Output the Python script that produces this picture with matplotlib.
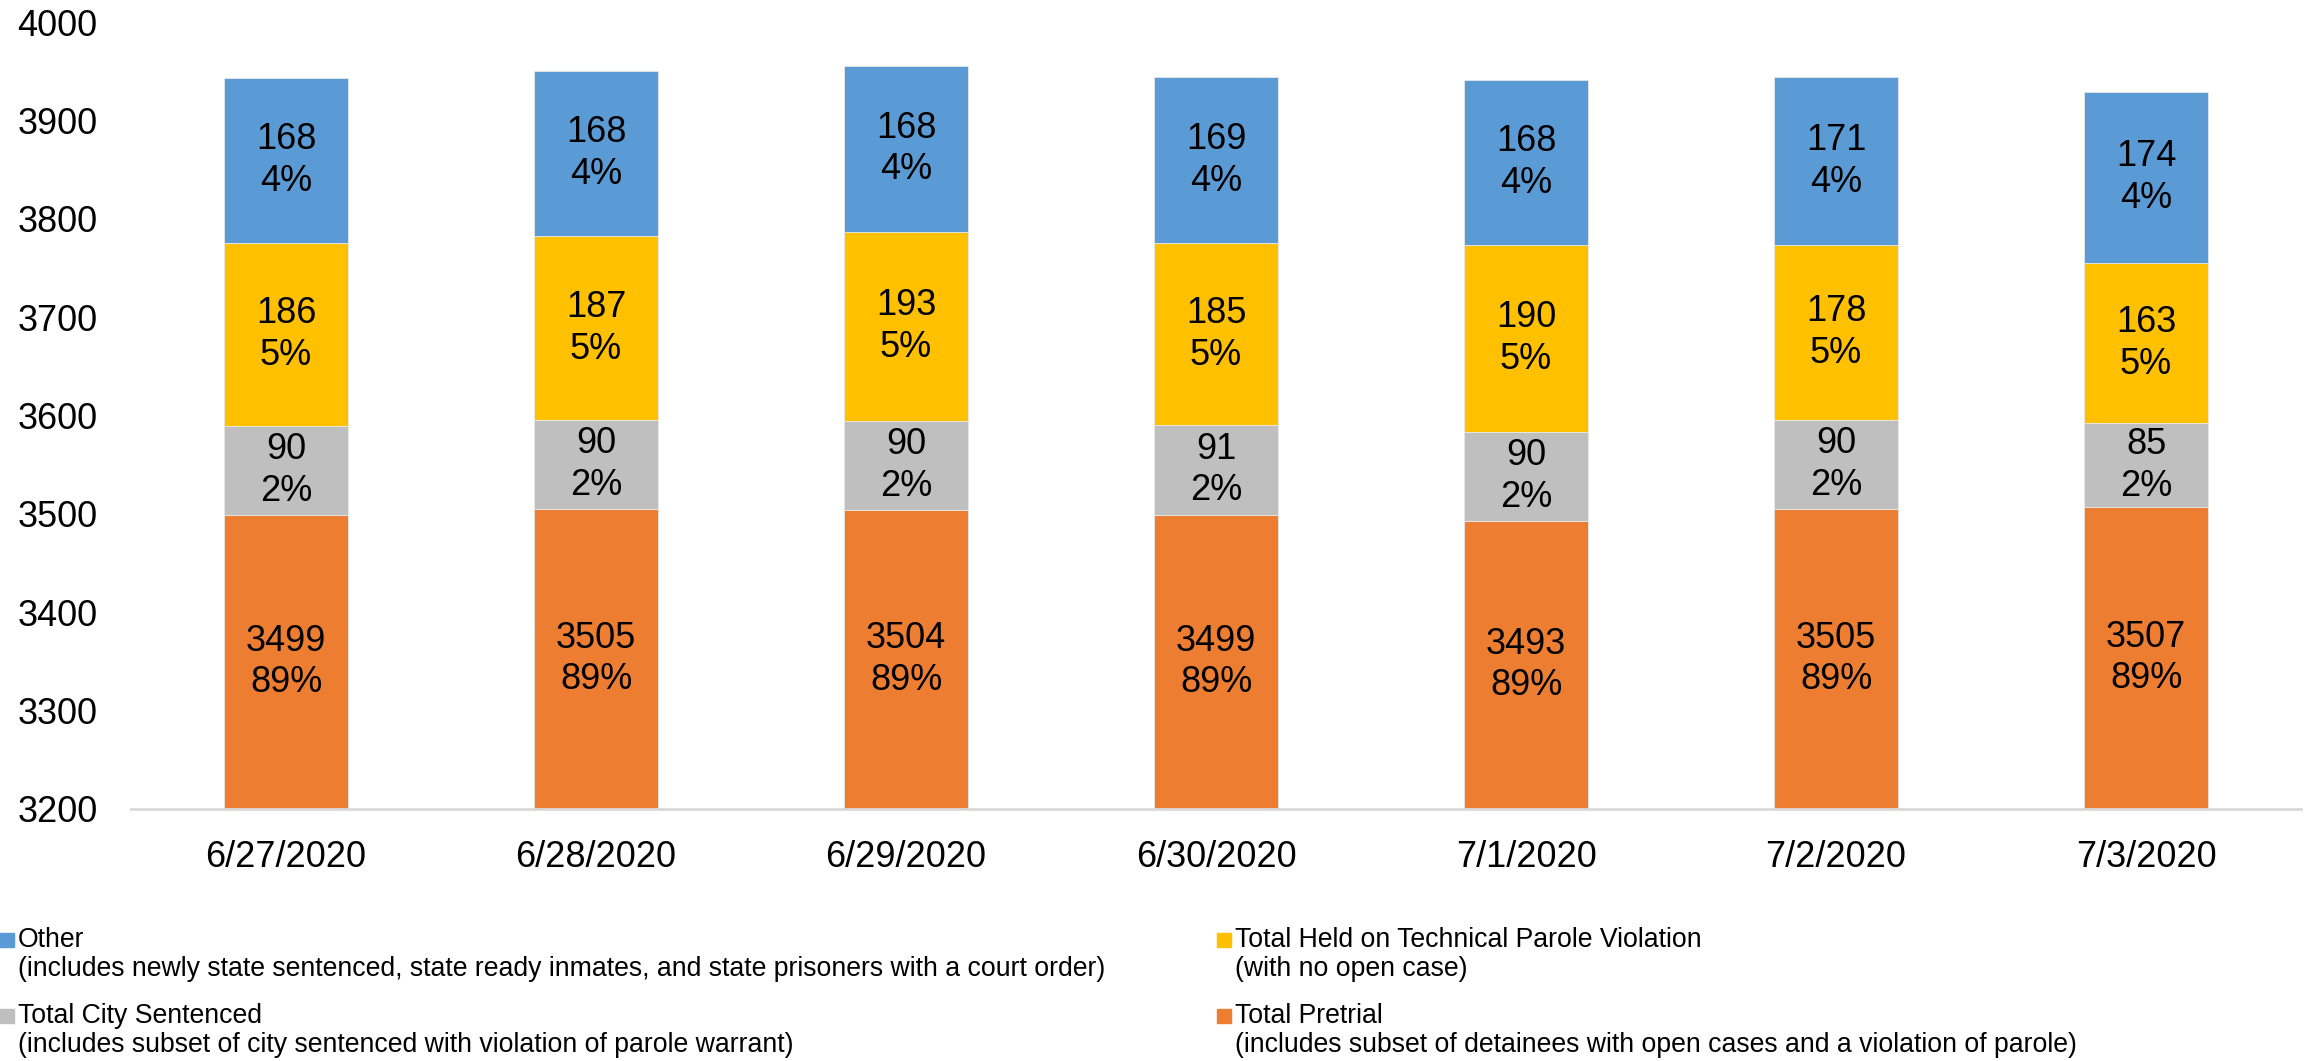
import matplotlib
matplotlib.use("Agg")
import matplotlib.pyplot as plt
from matplotlib.patches import Rectangle

plt.rcParams['font.family'] = ['Liberation Sans', 'DejaVu Sans']

# data
dates = ["6/27/2020", "6/28/2020", "6/29/2020", "6/30/2020", "7/1/2020", "7/2/2020", "7/3/2020"]
pretrial = [3499, 3505, 3504, 3499, 3493, 3505, 3507]
city_sent = [90, 90, 90, 91, 90, 90, 85]
technical = [186, 187, 193, 185, 190, 178, 163]
other = [168, 168, 168, 169, 168, 171, 174]
pct_pretrial = [89, 89, 89, 89, 89, 89, 89]
pct_city = [2, 2, 2, 2, 2, 2, 2]
pct_technical = [5, 5, 5, 5, 5, 5, 5]
pct_other = [4, 4, 4, 4, 4, 4, 4]

series = [
    (pretrial, pct_pretrial, "#ED7D31"),
    (city_sent, pct_city, "#BFBFBF"),
    (technical, pct_technical, "#FFC000"),
    (other, pct_other, "#5B9BD5"),
]

YMIN, YMAX = 3200, 4000

fig = plt.figure(figsize=(23.13, 10.61), dpi=100)
ax = fig.add_axes([131/2313, 1-809/1061, 2170/2313, (809-22)/1061])

x = list(range(len(dates)))
bottom = [0]*len(dates)
for vals, pcts, col in series:
    ax.bar(x, vals, width=0.4, bottom=bottom, color=col, edgecolor="#E8E8E8", linewidth=0.6)
    for i in x:
        lo = max(bottom[i], YMIN)
        hi = bottom[i] + vals[i]
        ax.text(i, (lo+hi)/2, "%d\n%d%%" % (vals[i], pcts[i]), ha='center', va='center',
                fontsize=26, linespacing=1.25)
    bottom = [b+v for b, v in zip(bottom, vals)]

ax.set_ylim(YMIN, YMAX)
ax.set_xlim(-0.5, len(dates)-0.5)
ax.set_yticks(range(3200, 4001, 100))
ax.set_xticks(x)
ax.set_xticklabels(dates)
ax.tick_params(axis='both', length=0, labelsize=26)
ax.tick_params(axis='y', pad=24)
ax.tick_params(axis='x', pad=22)
for s in ['top', 'right', 'left']:
    ax.spines[s].set_visible(False)
ax.spines['bottom'].set_color("#D9D9D9")
ax.spines['bottom'].set_linewidth(2)

# legend, drawn by hand so the square sits on the first line
legend_items = [
    ("#5B9BD5", "Other", "(includes newly state sentenced, state ready inmates, and state prisoners with a court order)", 0, 947),
    ("#FFC000", "Total Held on Technical Parole Violation", "(with no open case)", 1217, 947),
    ("#BFBFBF", "Total City Sentenced", "(includes subset of city sentenced with violation of parole warrant)", 0, 1023),
    ("#ED7D31", "Total Pretrial", "(includes subset of detainees with open cases and a violation of parole)", 1217, 1023),
]
W, H = 2313, 1061
for col, lab1, lab2, px, py in legend_items:
    fig.patches.append(Rectangle((px/W, 1-py/H), 14/W, 14/H, transform=fig.transFigure,
                                 color=col, figure=fig))
    fig.text((px+18)/W, 1-py/H, lab1, fontsize=19.2, ha='left', va='baseline')
    fig.text((px+18)/W, 1-(py+29)/H, lab2, fontsize=19.2, ha='left', va='baseline')

fig.savefig("out.png", dpi=100)
